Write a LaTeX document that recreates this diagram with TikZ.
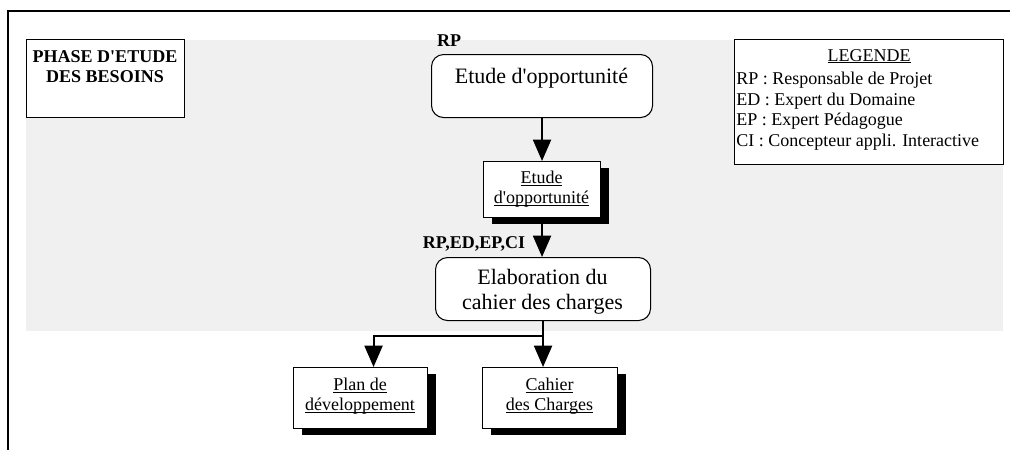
\documentclass[tikz,border=0pt]{standalone}
\usepackage{fontspec}
\setmainfont{Liberation Serif}[Ligatures=TeXOff]
\usetikzlibrary{arrows.meta,shadows}
\definecolor{bggray}{HTML}{F0F0F0}
\newcommand{\myul}[1]{\setbox0\hbox{#1}\rlap{\rule[-1.6pt]{\wd0}{0.6pt}}\box0}
\tikzset{
  bigtxt/.style={font=\fontsize{16.5}{19}\selectfont},
  smalltxt/.style={font=\fontsize{13.5}{15}\selectfont},
  boldlbl/.style={font=\fontsize{13.5}{15}\selectfont\bfseries},
  plainbox/.style={draw, line width=0.8pt, fill=white, inner sep=0, anchor=north west},
  roundbox/.style={plainbox, rounded corners=9pt},
  docbox/.style={plainbox, drop shadow={shadow xshift=6pt, shadow yshift=-4.5pt, fill=black, opacity=1}},
  txt/.style={inner sep=0, align=center, anchor=north},
  flow/.style={line width=1.5pt, -{Triangle[length=16pt,width=13.5pt]}},
}
\begin{document}
\begin{tikzpicture}[x=0.75pt,y=-0.75pt]
\useasboundingbox (0,0) rectangle (1010,450);
% frame
\draw[line width=2pt] (8,450) -- (8,11) -- (1010,11);
% gray band
\fill[bggray] (26,40) rectangle (1003,331);
% phase box
\node[plainbox, minimum width=118.5pt, minimum height=58.5pt] (phase) at (26,39) {};
\node[txt, boldlbl] (phaset) at (105,50) {PHASE D'ETUDE\\DES BESOINS};
% legend
\node[plainbox, minimum width=201.75pt, minimum height=93.75pt] (legend) at (734,39) {};
\node[smalltxt, inner sep=0, anchor=base] (legt) at (869,61) {\myul{LEGENDE}};
\node[font=\fontsize{13.5}{15.4}\selectfont, align=left, anchor=north west, inner sep=0] (legl) at (736,72)
  {RP : Responsable de Projet\\ED : Expert du Domaine\\EP : Expert Pédagogue\\CI : Concepteur appli. Interactive};
% flow boxes
\node[boldlbl, inner sep=0, anchor=base] (rp) at (449,46) {RP};
\node[roundbox, minimum width=165.75pt, minimum height=47.25pt] (etude) at (431,54) {};
\node[txt, bigtxt] (etudet) at (541.5,68) {Etude d'opportunité};
\node[docbox, minimum width=87.75pt, minimum height=42pt] (doc1) at (483,161) {};
\node[txt, smalltxt] (doc1t) at (541.5,171) {\myul{Etude}\\\myul{d'opportunité}};
\node[boldlbl, inner sep=0, anchor=base] (rp2) at (474,248) {RP,ED,EP,CI};
\node[roundbox, minimum width=161.25pt, minimum height=47.25pt] (elab) at (435,257) {};
\node[txt, bigtxt] (elabt) at (542.5,269) {Elaboration du\\cahier des charges};
\node[docbox, minimum width=100.5pt, minimum height=45.75pt] (plan) at (293,367) {};
\node[txt, smalltxt] (plant) at (360,378) {\myul{Plan de}\\\myul{développement}};
\node[docbox, minimum width=101.25pt, minimum height=45.75pt] (cahier) at (482,367) {};
\node[txt, smalltxt] (cahiert) at (549.5,378) {\myul{Cahier}\\\myul{des Charges}};
% connectors
\draw[flow] (etude.south) -- (doc1.north);
\draw[flow] (doc1.south) -- (doc1.south |- elab.north);
\draw[flow] (elab.south) -- (elab.south |- cahier.north);
\coordinate (br) at (543.5,336);
\draw[flow] (br) -| ([xshift=9.75pt]plan.north);
\end{tikzpicture}
\end{document}
